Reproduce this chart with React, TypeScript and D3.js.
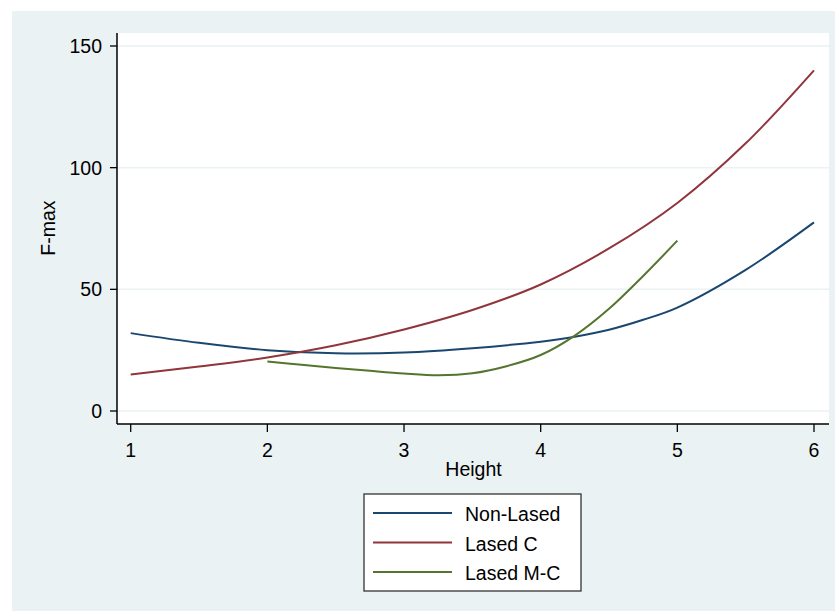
import React from "react";
import { scaleLinear, line, curveCatmullRom } from "d3";

// fitted values
const heightsBlue = [1, 1.5, 2, 2.5, 3, 3.5, 4, 4.25, 4.5, 4.75, 5, 5.5, 6];
const nonLased = [32, 28, 25, 23.7, 24, 25.8, 28.5, 30.5, 33.4, 37.5, 42.5, 58, 77.5];

const heightsRed = [1, 1.5, 2, 2.5, 3, 3.5, 4, 4.5, 5, 5.5, 6];
const lasedC = [15, 18.3, 22, 27, 33.5, 41.5, 52, 66.8, 85.5, 110, 140];

const heightsGreen = [2, 2.25, 2.5, 2.75, 3, 3.25, 3.5, 3.75, 4, 4.25, 4.5, 4.75, 5];
const lasedMC = [20.3, 19, 17.7, 16.5, 15.4, 14.7, 15.5, 18.4, 23, 31, 42, 55.5, 70];

const xTicks = [1, 2, 3, 4, 5, 6];
const yTicks = [0, 50, 100, 150];

const series = [
  { name: "Non-Lased", xs: heightsBlue, ys: nonLased, color: "#1a476f" },
  { name: "Lased C", xs: heightsRed, ys: lasedC, color: "#90353b" },
  { name: "Lased M-C", xs: heightsGreen, ys: lasedMC, color: "#55752f" },
];

const font = "'Liberation Sans', Arial, sans-serif";

export default function App() {
  const W = 835;
  const H = 611;
  const plot = { left: 117, top: 33, right: 829, bottom: 424 };

  const x = scaleLinear().domain([1, 6]).range([130.7, 814]);
  const y = scaleLinear().domain([0, 150]).range([411, 46]);

  const lineGen = line<[number, number]>()
    .x((d) => x(d[0]))
    .y((d) => y(d[1]))
    .curve(curveCatmullRom);

  const legend = { x: 364, y: 494, w: 217, h: 97 };

  return (
    <svg
      width={W}
      height={H}
      style={{ position: "absolute", left: 0, top: 0, fontFamily: font }}
    >
      <rect x={0} y={0} width={W} height={H} fill="#ffffff" />
      <rect x={12} y={11} width={W - 12} height={H - 11} fill="#eaf2f3" />
      {/* plot region */}
      <rect
        x={plot.left}
        y={plot.top}
        width={plot.right - plot.left}
        height={plot.bottom - plot.top}
        fill="#ffffff"
      />

      {/* gridlines */}
      {yTicks.map((t) => (
        <line
          key={"g" + t}
          x1={plot.left}
          x2={plot.right}
          y1={y(t)}
          y2={y(t)}
          stroke="#eaf2f3"
          strokeWidth={1.5}
        />
      ))}

      {/* y axis */}
      <line x1={plot.left} x2={plot.left} y1={plot.top} y2={plot.bottom} stroke="#000" strokeWidth={1.5} />
      {yTicks.map((t) => (
        <g key={"y" + t}>
          <line x1={plot.left - 7} x2={plot.left} y1={y(t)} y2={y(t)} stroke="#000" strokeWidth={1.3} />
          <text x={102} y={y(t) + 7} textAnchor="end" fontSize={19.5} fill="#000">
            {t}
          </text>
        </g>
      ))}
      <text
        transform={`translate(55,228) rotate(-90)`}
        textAnchor="middle"
        fontSize={19.5}
        fill="#000"
      >
        F-max
      </text>

      {/* x axis */}
      <line x1={plot.left} x2={plot.right} y1={plot.bottom} y2={plot.bottom} stroke="#000" strokeWidth={1.5} />
      {xTicks.map((t) => (
        <g key={"x" + t}>
          <line x1={x(t)} x2={x(t)} y1={plot.bottom} y2={plot.bottom + 8} stroke="#000" strokeWidth={1.3} />
          <text x={x(t)} y={457} textAnchor="middle" fontSize={19.5} fill="#000">
            {t}
          </text>
        </g>
      ))}
      <text x={(plot.left + plot.right) / 2 + 0.5} y={476} textAnchor="middle" fontSize={19.5} fill="#000">
        Height
      </text>

      {/* curves */}
      {series.map((s) => (
        <path
          key={s.name}
          d={lineGen(s.xs.map((v, i) => [v, s.ys[i]] as [number, number])) || ""}
          fill="none"
          stroke={s.color}
          strokeWidth={2}
        />
      ))}

      {/* legend */}
      <rect
        x={legend.x}
        y={legend.y}
        width={legend.w}
        height={legend.h}
        fill="#ffffff"
        stroke="#333"
        strokeWidth={1.3}
      />
      {series.map((s, i) => {
        const ly = 513 + i * 29.5;
        return (
          <g key={"l" + s.name}>
            <line x1={373} x2={452} y1={ly} y2={ly} stroke={s.color} strokeWidth={2} />
            <text x={465} y={ly + 8} fontSize={19.5} fill="#000">
              {s.name}
            </text>
          </g>
        );
      })}
    </svg>
  );
}
